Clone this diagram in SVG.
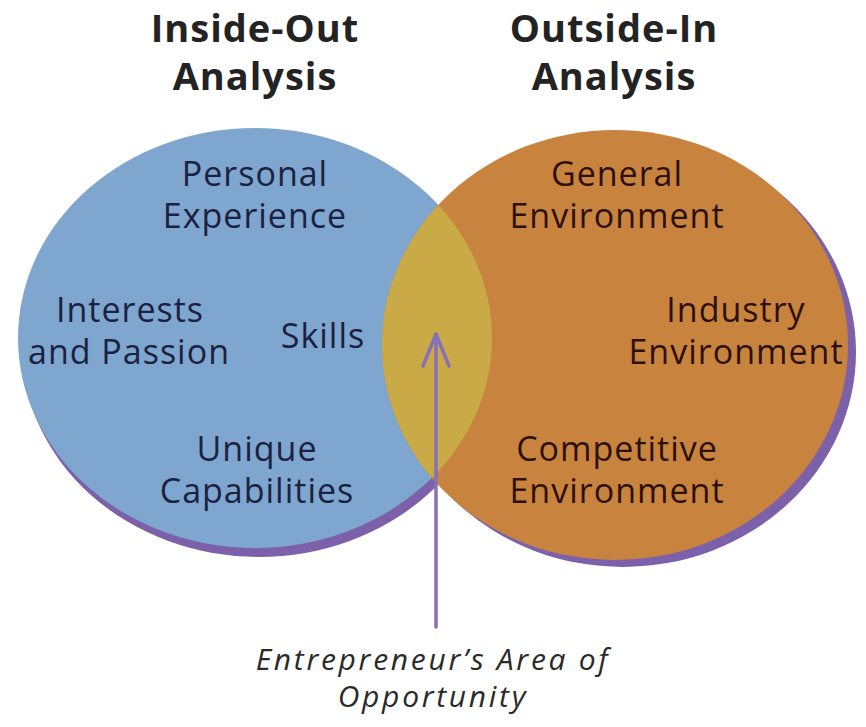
<svg xmlns="http://www.w3.org/2000/svg" width="866" height="727" viewBox="0 0 866 727">
  <style>
    .head { font-family: "Open Sans", "Noto Sans", sans-serif; font-weight: 700; font-size: 38px; letter-spacing: 1px; fill: #232323; text-anchor: middle; }
    .lbl { font-family: "Open Sans", "Noto Sans", sans-serif; font-size: 34px; letter-spacing: 1px; text-anchor: middle; }
    .in { fill: #1b2140; }
    .out { fill: #2e100b; }
    .cap { font-family: "Open Sans", "Noto Sans", sans-serif; font-style: italic; font-size: 30px; letter-spacing: 2.7px; fill: #2a2a2a; text-anchor: middle; }
    .shadow { fill: #7c60aa; }
    .arrow { stroke: #8770b6; stroke-width: 3.5; fill: none; stroke-linecap: round; stroke-linejoin: round; }
  </style>
  <defs>
    <clipPath id="leftClip">
      <ellipse cx="255" cy="338" rx="237" ry="210"/>
    </clipPath>
  </defs>
  <rect width="866" height="727" fill="#ffffff"/>

  <!-- headings -->
  <g id="heading-inside-out">
    <text class="head" x="255" y="42">Inside-Out</text>
    <text class="head" x="255" y="90">Analysis</text>
  </g>
  <g id="heading-outside-in">
    <text class="head" x="614" y="42">Outside-In</text>
    <text class="head" x="614" y="90">Analysis</text>
  </g>

  <!-- drop shadows behind both sets -->
  <g id="shadows">
    <ellipse class="shadow" cx="259" cy="347" rx="237" ry="210"/>
    <ellipse class="shadow" cx="623" cy="352" rx="233" ry="215"/>
  </g>

  <g id="inside-out">
    <ellipse cx="255" cy="338" rx="237" ry="210" fill="#7fa6cf"/>
  </g>
  <g id="outside-in">
    <ellipse cx="615" cy="345" rx="233" ry="215" fill="#c8843e"/>
  </g>
  <g id="overlap">
    <ellipse cx="615" cy="345" rx="233" ry="215" fill="#c9aa46" clip-path="url(#leftClip)"/>
  </g>

  <!-- inside-out factors -->
  <g id="personal-experience">
    <text class="lbl in" x="255" y="186">Personal</text>
    <text class="lbl in" x="255" y="228">Experience</text>
  </g>
  <g id="interests-passion">
    <text class="lbl in" x="130" y="322">Interests</text>
    <text class="lbl in" x="129" y="364">and Passion</text>
  </g>
  <g id="skills">
    <text class="lbl in" x="323" y="348">Skills</text>
  </g>
  <g id="unique-capabilities">
    <text class="lbl in" x="257" y="461">Unique</text>
    <text class="lbl in" x="257" y="503">Capabilities</text>
  </g>

  <!-- outside-in factors -->
  <g id="general-environment">
    <text class="lbl out" x="617" y="186">General</text>
    <text class="lbl out" x="617" y="228">Environment</text>
  </g>
  <g id="industry-environment">
    <text class="lbl out" x="736" y="322">Industry</text>
    <text class="lbl out" x="736" y="364">Environment</text>
  </g>
  <g id="competitive-environment">
    <text class="lbl out" x="617" y="461">Competitive</text>
    <text class="lbl out" x="617" y="503">Environment</text>
  </g>

  <!-- pointer into the overlap -->
  <g id="connectors">
    <line class="arrow" x1="436" y1="627" x2="436" y2="335"/>
    <polyline class="arrow" points="423,366 436,334 449,366"/>
  </g>

  <g id="area-of-opportunity">
    <text class="cap" x="433" y="670">Entrepreneur’s Area of</text>
    <text class="cap" x="433" y="707">Opportunity</text>
  </g>
</svg>
